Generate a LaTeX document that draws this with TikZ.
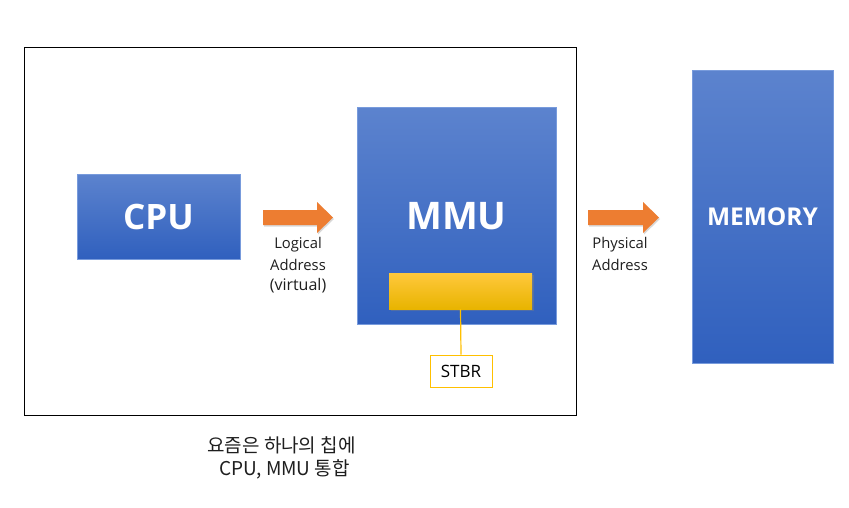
\documentclass[tikz,border=0pt]{standalone}
\usepackage{fontspec}
\setmainfont{Open Sans}
\newfontfamily\kofont{Noto Sans CJK KR}
\usetikzlibrary{shadows}
\definecolor{boxtop}{RGB}{92,131,206}
\definecolor{boxbot}{RGB}{48,96,190}
\definecolor{boxedge}{RGB}{120,155,220}
\definecolor{arrowor}{RGB}{237,125,49}
\definecolor{goldtop}{RGB}{255,200,60}
\definecolor{goldbot}{RGB}{232,180,0}
\definecolor{goldline}{RGB}{255,192,0}
\definecolor{txt}{RGB}{30,30,30}
\begin{document}
\begin{tikzpicture}[x=1pt,y=-1pt,
  bluebox/.style={rectangle, draw=boxedge, line width=0.6pt, top color=boxtop, bottom color=boxbot, text=white, font=\bfseries, inner sep=0pt},
  lbl/.style={font=\fontsize{14.8}{17}\selectfont, text=txt, inner sep=0pt, align=center},
  blockarrow/.style={fill=arrowor, drop shadow={shadow xshift=1pt, shadow yshift=-1.5pt, opacity=0.3}},
  goldbar/.style={rectangle, top color=goldtop, bottom color=goldbot, draw=none, inner sep=0pt, drop shadow={shadow xshift=1.5pt, shadow yshift=-2pt, opacity=0.4}},
  regbox/.style={rectangle, draw=goldline, line width=1pt, fill=white, inner sep=0pt, font=\fontsize{17}{20}\selectfont, text=black},
  caption/.style={inner sep=0pt, text=txt, font=\kofont\fontsize{19}{22}\selectfont}
]
\useasboundingbox (0,0) rectangle (849,507);
\fill[white] (0,0) rectangle (849,507);

% outer frame
\node[draw=black, line width=0.8pt, minimum width=552pt, minimum height=368pt, inner sep=0pt] (frame) at (300,231) {};

% boxes
\node[bluebox, minimum width=163pt, minimum height=85pt, font=\bfseries\fontsize{35}{40}\selectfont] (cpu) at (158.5,216.5) {CPU};
\node[bluebox, minimum width=199pt, minimum height=217pt] (mmu) at (456.5,215.5) {};
\node[text=white, font=\bfseries\fontsize{38}{44}\selectfont, inner sep=0pt] (mmutext) at (456.5,216) {MMU};
\node[bluebox, minimum width=141pt, minimum height=293pt, font=\bfseries\fontsize{24.5}{28}\selectfont] (mem) at (762.5,216.5) {MEMORY};

% STBR bar and label
\node[goldbar, minimum width=143pt, minimum height=36pt] (bar) at (460.5,291) {};
\node[regbox, minimum width=62pt, minimum height=32pt] (stbr) at (461,371) {STBR};
\draw[goldline, line width=1.2pt] (bar.south) -- (stbr.north);

% block arrows
\coordinate (a1) at (263,217.5);
\coordinate (a2) at (588,217.5);
\fill[blockarrow] (a1) ++(0,-7.5) -- ++(54,0) -- ++(0,-8) -- ++(16,15.5) -- ++(-16,15.5) -- ++(0,-8) -- ++(-54,0) -- cycle;
\fill[blockarrow] (a2) ++(0,-7.5) -- ++(55,0) -- ++(0,-8) -- ++(16,15.5) -- ++(-16,15.5) -- ++(0,-8) -- ++(-55,0) -- cycle;

% arrow labels
\node[lbl] (log1) at (298,245) {Logical};
\node[lbl] (log2) at (298,265) {Address};
\node[lbl, font=\fontsize{16}{19}\selectfont] (log3) at (298,286) {(virtual)};
\node[lbl] (phy1) at (620,245) {Physical};
\node[lbl] (phy2) at (620,265) {Address};

% caption
\node[caption] (cap1) at (281.5,445) {요즘은 하나의 칩에};
\node[caption] (cap2) at (284.5,469) {CPU, MMU 통합};
\end{tikzpicture}
\end{document}
